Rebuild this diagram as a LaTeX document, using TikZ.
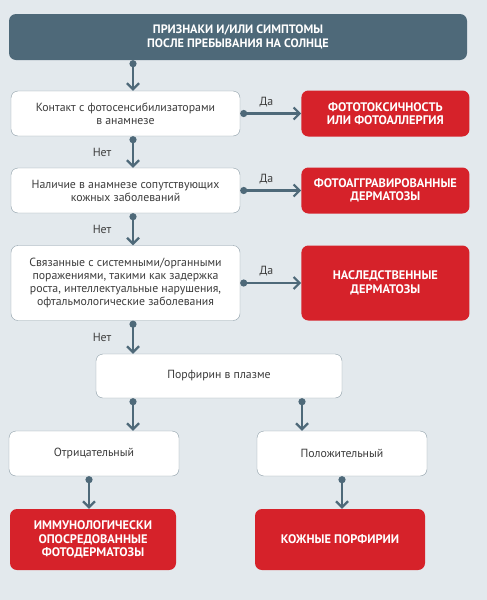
\documentclass[tikz,border=0pt]{standalone}
\usepackage{fontspec}
\setmainfont{PT Sans}
\usetikzlibrary{positioning, arrows.meta}

\definecolor{backdrop}{HTML}{E3E9ED}
\definecolor{slate}{HTML}{4E6979}
\definecolor{alarmred}{HTML}{D6222A}
\definecolor{boxline}{HTML}{8C9DA7}
\definecolor{bodytext}{HTML}{3C3C3C}

\begin{document}
\begin{tikzpicture}[
  x=1pt, y=-1pt,
  header/.style={rectangle, rounded corners=7pt, fill=slate, text=white, font=\bfseries\fontsize{12.2}{13.5}\selectfont, align=center, minimum height=46pt},
  question/.style={rectangle, rounded corners=7pt, draw=boxline, fill=white, text=bodytext, font=\fontsize{11.8}{13}\selectfont, align=center, minimum width=229pt, minimum height=45pt},
  diagnosis/.style={rectangle, rounded corners=7pt, fill=alarmred, text=white, font=\bfseries\fontsize{12.4}{13.5}\selectfont, align=center, minimum width=168pt, minimum height=46pt},
  flow/.style={draw=slate, line width=2.5pt, {Circle[length=7pt]}-{Straight Barb[length=6pt, width=12pt, line width=2.2pt]}},
  answer/.style={text=bodytext, font=\fontsize{11.8}{13}\selectfont},
  node distance=61pt,
]

%%% Background
\fill[backdrop] (0,0) rectangle (487,600);

%%% Rails
\coordinate (leftrail) at (133,0);
\coordinate (rightrail) at (302,0);
\coordinate (negrail) at (89,0);
\coordinate (posrail) at (342,0);

%%% Nodes
\node[header, minimum width=458pt] (signs) at (238,37) {ПРИЗНАКИ И/ИЛИ СИМПТОМЫ\\ПОСЛЕ ПРЕБЫВАНИЯ НА СОЛНЦЕ};
\node[question] (contact) at (125.5,113.5) {Контакт с фотосенсибилизаторами\\в анамнезе};
\node[diagnosis] (phototox) [right=of contact] {ФОТОТОКСИЧНОСТЬ\\ИЛИ ФОТОАЛЛЕРГИЯ};
\node[question] (comorbid) at (125.5,190.5) {Наличие в анамнезе сопутствующих\\кожных заболеваний};
\node[diagnosis] (aggravated) [right=of comorbid] {ФОТОАГГРАВИРОВАННЫЕ\\ДЕРМАТОЗЫ};
\node[question, minimum height=75pt] (systemic) at (125.5,283) {Связанные с системными/органными\\поражениями, такими как задержка\\роста, интеллектуальные нарушения,\\офтальмологические заболевания};
\node[diagnosis, minimum height=75pt] (hereditary) [right=of systemic] {НАСЛЕДСТВЕННЫЕ\\ДЕРМАТОЗЫ};
\node[question, minimum width=246pt, minimum height=44pt] (porphyrin) at (219,376) {Порфирин в плазме};
\node[question, minimum width=170pt] (negative) at (94,453.5) {Отрицательный};
\node[question, minimum width=170pt] (positive) at (342,453.5) {Положительный};
\node[diagnosis, minimum width=166pt, minimum height=61pt] (immuno) at (93,539.5) {ИММУНОЛОГИЧЕСКИ\\ОПОСРЕДОВАННЫЕ\\ФОТОДЕРМАТОЗЫ};
\node[diagnosis, minimum width=170pt, minimum height=61pt] (porphyria) at (340,539.5) {КОЖНЫЕ ПОРФИРИИ};

%%% Connectors
\draw[flow] (signs.south -| leftrail) -- (contact.north -| leftrail);
\draw[flow] (contact) -- node[answer, above=2pt, pos=0.43] {Да} (phototox);
\draw[flow] (contact.south -| leftrail) -- node[answer, left=17pt] {Нет} (comorbid.north -| leftrail);
\draw[flow] (comorbid) -- node[answer, above=2pt, pos=0.43] {Да} (aggravated);
\draw[flow] (comorbid.south -| leftrail) -- node[answer, left=17pt] {Нет} (systemic.north -| leftrail);
\draw[flow] (systemic) -- node[answer, above=2pt, pos=0.43] {Да} (hereditary);
\draw[flow] (systemic.south -| leftrail) -- node[answer, left=17pt] {Нет} (porphyrin.north -| leftrail);
\draw[flow] (porphyrin.south -| leftrail) -- (negative.north -| leftrail);
\draw[flow] (porphyrin.south -| rightrail) -- (positive.north -| rightrail);
\draw[flow] (negative.south -| negrail) -- (immuno.north -| negrail);
\draw[flow] (positive.south -| posrail) -- (porphyria.north -| posrail);

\end{tikzpicture}
\end{document}
